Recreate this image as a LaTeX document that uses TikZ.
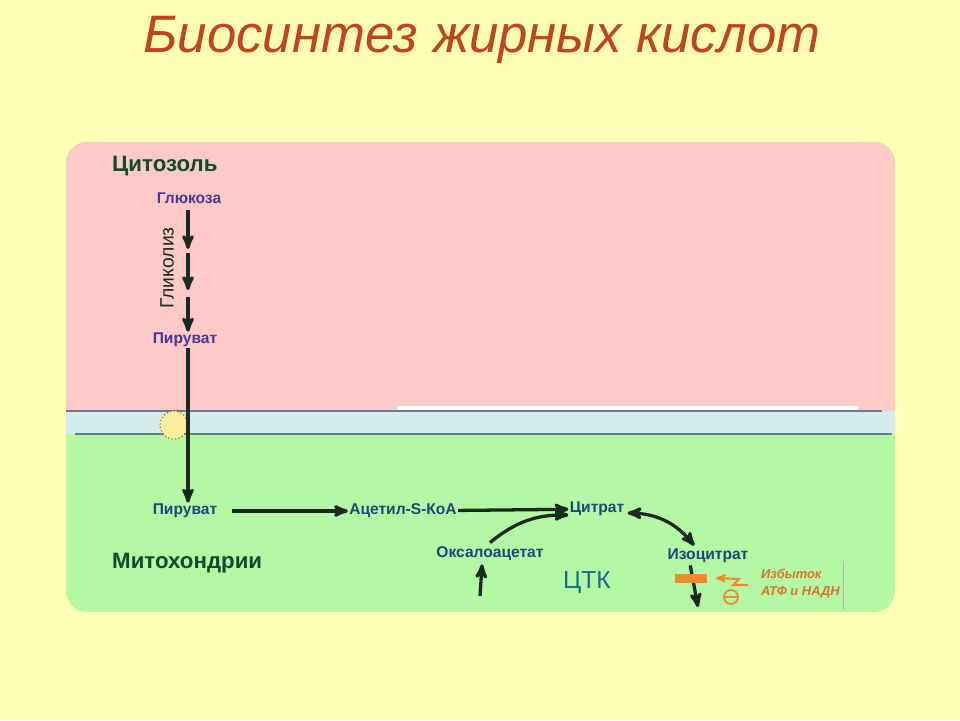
\documentclass[tikz,border=0pt]{standalone}
\usepackage{fontspec}
\setmainfont{Liberation Sans}
\usetikzlibrary{arrows,calc,positioning}

\definecolor{bgyellow}{HTML}{FFFFB6}
\definecolor{cytopink}{HTML}{FFC9C6}
\definecolor{mitogreen}{HTML}{B4F7A5}
\definecolor{membblue}{HTML}{D3ECEC}
\definecolor{membline}{HTML}{5E7E88}
\definecolor{titlered}{HTML}{C2431C}
\definecolor{zonegreen}{HTML}{0E4B2B}
\definecolor{glycviolet}{HTML}{45389A}
\definecolor{metblue}{HTML}{1E4677}
\definecolor{arrowdark}{HTML}{1A2A22}
\definecolor{inhorange}{HTML}{F28A2A}
\definecolor{inhtext}{HTML}{D9752A}
\definecolor{carrieryellow}{HTML}{F9EE9C}

\begin{document}
\begin{tikzpicture}[x=0.3mm,y=-0.3mm,>=stealth']
	\tikzstyle{zone} = [font=\fontsize{19}{22}\selectfont\bfseries, text=zonegreen, anchor=west, inner sep=0pt]
	\tikzstyle{met} = [font=\fontsize{13.3}{15}\selectfont\bfseries, text=metblue, inner sep=1pt]
	\tikzstyle{flow} = [->, line width=2.8pt, draw=arrowdark]

	% background and compartments
	\fill [bgyellow] (0,0) rectangle (960,720);
	\useasboundingbox (0,0) rectangle (960,720);
	\fill [mitogreen, rounded corners=18] (66,142) rectangle (895,612);
	\fill [cytopink, rounded corners=18] (66,142) -- (895,142) -- (895,422) -- (66,422) -- cycle;
	\fill [cytopink] (66,300) rectangle (895,411);
	\fill [membblue] (66,411) rectangle (895,434);
	\fill [white] (397,406) rectangle (858,410);
	\draw [membline, line width=1.3pt] (66,411) -- (882,411);
	\draw [membline, line width=1.3pt] (75,434) -- (892,434);

	\node [font=\fontsize{45}{48}\selectfont\itshape, text=titlered] (title) at (482,40) {Биосинтез жирных кислот};

	\node [zone] (cyto) at (112,166) {Цитозоль};
	\node [zone] (mito) at (112,563) {Митохондрии};

	% glycolysis
	\node [met, text=glycviolet] (gluc) at (189,198) {Глюкоза};
	\node [met, text=glycviolet] (pyrc) at (185,340) {Пируват};
	\coordinate (g1) at (188,249);
	\coordinate (g2) at (188,290);
	\draw [flow] (188,210) -- (g1);
	\draw [flow] (188,253) -- (g2);
	\draw [flow] (188,297) -- (pyrc.north -| 188,0);
	\node [rotate=90, font=\fontsize{16.5}{18}\selectfont, text=arrowdark] (glyc) at (167,268) {Гликолиз};

	% transport
	\node [circle, draw=inhorange!70!black, dotted, line width=1pt, fill=carrieryellow, minimum size=28*0.3mm, inner sep=0pt] (carrier) at (174,425) {};
	\node [met] (pyrm) at (185,511) {Пируват};
	\draw [flow] (pyrc.south -| 188,0) -- (pyrm.north -| 188,0);

	% mitochondrial reactions
	\node [met] (acoa) at (403,511) {Ацетил-S-КоА};
	\node [met] (citr) at (597,509) {Цитрат};
	\node [met] (oxal) at (490,554) {Оксалоацетат};
	\node [met] (isoc) at (708,556) {Изоцитрат};
	\node [font=\fontsize{21}{23}\selectfont, text=metblue!80!cyan] (tca) at (587,582) {ЦТК};
	\draw [flow] (232,511) -- (acoa);
	\draw [flow] (acoa) -- (citr);
	\draw [flow] ($(oxal.north)+(0,-3)$) to [bend left=20] ($(citr.west)+(0,6)$);
	\coordinate (oin) at (480,596);
	\draw [flow] (oin) -- ($(oxal.south west)+(47,2)$);
	\draw [<->, line width=2.8pt, draw=arrowdark] ($(citr.east)+(2,4)$) to [bend left=25] ($(isoc.north west)+(28,-2)$);
	\coordinate (iout) at (698,607);
	\draw [flow] ($(isoc.south west)+(24,1)$) -- (iout);

	% inhibition
	\node [fill=inhorange, minimum width=32*0.3mm, minimum height=9*0.3mm, inner sep=0pt] (block) at (691,578) {};
	\draw [->, inhorange, line width=1.8pt] (748,585) -- (733,585) -- (739,579) -- (716,578);
	\node [circle, draw=inhorange, line width=1.6pt, minimum size=14*0.3mm, inner sep=0pt] (minus) at (731,597) {};
	\draw [inhorange, line width=1.6pt] (minus.west) -- (minus.east);
	\node [font=\fontsize{11}{14.5}\selectfont\bfseries\itshape, text=inhtext, align=left, anchor=west] (excess) at (757,584) {Избыток\\АТФ и НАДН};
	\draw [gray!60, line width=0.6pt] (843,561) -- (843,610);
\end{tikzpicture}
\end{document}
